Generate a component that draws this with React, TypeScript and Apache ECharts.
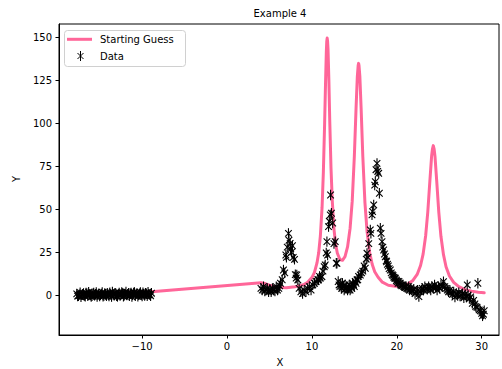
import React, { useEffect, useRef } from "react";
import * as echarts from "echarts";

const FONT = '"DejaVu Sans", sans-serif';
const PINK = "#ff6699";

// Tick labels
const xTicks = [-10, 0, 10, 20, 30];
const yTicks = [0, 25, 50, 75, 100, 125, 150];

// "Starting Guess" curve: [x, y]
const guessCurve = [
  [-17.7, 1.2], [-8.9, 2.1], [4.0, 7.3], [4.5, 6.8], [5.0, 5.9], [5.5, 5.3], [6.0, 4.8],
  [6.5, 4.5], [7.0, 4.4], [7.5, 4.7], [8.0, 5.0], [8.5, 5.4], [9.0, 6.1], [9.5, 7.5],
  [10.0, 10.3], [10.3, 13.3], [10.6, 18.8], [10.8, 24.7], [11.0, 34.6], [11.2, 51.2],
  [11.35, 71.5], [11.5, 100], [11.6, 122], [11.7, 141.5], [11.75, 147.5], [11.8, 149.5],
  [11.85, 147.5], [11.9, 143], [12.0, 125], [12.1, 102], [12.25, 74], [12.4, 55],
  [12.6, 38.5], [12.8, 29.5], [13.0, 24.4], [13.3, 20.8], [13.6, 20.3], [13.9, 22.4],
  [14.2, 28.1], [14.5, 39], [14.75, 54.7], [15.0, 80.8], [15.2, 108.5], [15.35, 127],
  [15.45, 133.5], [15.5, 134.8], [15.55, 133.5], [15.65, 127.2], [15.8, 108.5],
  [16.0, 80.5], [16.25, 53.7], [16.5, 37], [16.8, 25], [17.1, 18], [17.4, 13.7],
  [17.8, 10.5], [18.3, 7.6], [19.0, 5.8], [19.8, 5.2], [20.6, 5.3], [21.3, 6.5],
  [21.9, 8.6], [22.4, 12.1], [22.8, 17.3], [23.1, 23.9], [23.4, 34.6], [23.65, 48.4],
  [23.9, 66.7], [24.1, 80.8], [24.2, 85], [24.3, 87], [24.4, 85], [24.5, 80.7],
  [24.7, 66.6], [24.95, 48.2], [25.2, 34.3], [25.5, 23.6], [25.8, 16.6], [26.2, 11.2],
  [26.7, 7.5], [27.3, 5.0], [28.0, 3.4], [28.8, 2.4], [29.6, 1.8], [30.3, 1.4],
];

// Measured data (left cluster), [x, y]
const dataLeft = [
  [-17.7, 0.8], [-17.6, -0.5], [-17.5, -0.3], [-17.4, 0.4], [-17.3, 1.5], [-17.2, -0.9],
  [-17.1, 0.2], [-17.0, 0.6], [-16.9, 1.1], [-16.8, -0.2], [-16.7, -0.6], [-16.6, 1.3],
  [-16.5, 0.9], [-16.4, -0.4], [-16.3, 1.8], [-16.2, 0.5], [-16.1, 0.1], [-16.0, -0.7],
  [-15.9, -0.4], [-15.8, 0.9], [-15.7, 1.3], [-15.6, -0.1], [-15.5, 0.6], [-15.4, 1.6],
  [-15.3, -0.8], [-15.2, 0.2], [-15.1, 1.0], [-15.0, -0.5], [-14.9, 0.3], [-14.8, 0.8],
  [-14.7, 1.6], [-14.6, -0.6], [-14.5, -0.2], [-14.4, 1.1], [-14.3, 0.7], [-14.2, -0.3],
  [-14.1, 1.2], [-14.0, 0.4], [-13.9, -0.5], [-13.8, 1.5], [-13.7, 0.4], [-13.6, -0.8],
  [-13.5, 1.9], [-13.4, 0.7], [-13.3, 0.0], [-13.2, 1.2], [-13.1, 0.9], [-13.0, -0.3],
  [-12.9, -0.7], [-12.8, 0.5], [-12.7, 1.4], [-12.6, -0.2], [-12.5, 0.5], [-12.4, 1.7],
  [-12.3, 1.1], [-12.2, -0.6], [-12.1, -0.1], [-12.0, 0.8], [-11.9, 2.0], [-11.8, 0.1],
  [-11.7, 0.6], [-11.6, 1.2], [-11.5, -0.4], [-11.4, 0.9], [-11.3, 1.3], [-11.2, -0.7],
  [-11.1, 0.2], [-11.0, 1.4], [-10.9, 1.7], [-10.8, -0.3], [-10.7, 0.8], [-10.6, 1.1],
  [-10.5, -0.6], [-10.4, 0.3], [-10.3, 1.0], [-10.2, 1.6], [-10.1, 0.3], [-10.0, -0.5],
  [-9.9, 1.5], [-9.8, 0.6], [-9.7, -0.2], [-9.6, 1.2], [-9.5, 0.9], [-9.4, -0.4],
  [-9.3, 1.8], [-9.2, 0.7], [-9.1, 0.4], [-9.0, -0.3], [-8.9, 1.2],
];

// Measured data (right part), [x, y]
const dataRight = [
  [4.0, 4], [4.15, 3], [4.3, 5], [4.45, 2.5], [4.6, 3], [4.75, 4], [4.9, 2], [5.05, 3.5],
  [5.2, 2], [5.35, 4], [5.5, 3], [5.65, 2.5], [5.8, 5], [5.95, 3], [6.1, 4], [6.2, 5.5],
  [6.3, 7], [6.5, 9], [6.65, 14.7], [6.8, 13], [6.93, 23.4], [7.0, 22], [7.1, 28],
  [7.24, 36], [7.3, 32], [7.44, 30.2], [7.5, 27], [7.6, 25], [7.71, 28.8], [7.8, 22],
  [7.95, 20.9], [8.05, 12], [8.15, 10], [8.22, 11.8], [8.34, 8.9], [8.5, 4], [8.7, 2],
  [8.9, 1], [9.1, 3], [9.3, 2], [9.5, 4], [9.7, 5], [9.9, 3], [10.1, 6], [10.3, 7],
  [10.5, 8], [10.7, 9], [10.78, 8.9], [10.9, 11], [11.0, 10], [11.18, 10.8], [11.3, 14],
  [11.45, 16.6], [11.57, 17.6], [11.69, 24.6], [11.77, 31.2], [11.85, 23.4], [11.96, 39.9],
  [12.05, 43], [12.16, 46.7], [12.2, 58.3], [12.3, 47.7], [12.45, 42], [12.6, 30],
  [12.75, 31.2], [12.87, 18.6], [12.95, 18.6], [13.1, 8], [13.2, 6], [13.3, 5], [13.4, 6.5],
  [13.5, 4], [13.6, 7], [13.7, 5], [13.8, 3], [13.9, 6], [14.0, 4], [14.1, 5], [14.2, 3],
  [14.3, 4], [14.4, 6], [14.5, 3], [14.6, 5], [14.7, 4], [14.8, 7], [14.9, 6], [15.0, 5],
  [15.1, 8], [15.2, 7], [15.31, 8.9], [15.4, 9], [15.5, 11], [15.7, 11.8], [15.85, 13],
  [16.0, 14], [16.15, 17], [16.29, 15.7], [16.4, 21], [16.49, 24.4], [16.6, 22], [16.7, 30],
  [16.88, 38], [16.95, 36], [17.08, 46.7], [17.15, 48.6], [17.28, 52.5], [17.4, 64],
  [17.47, 66], [17.55, 73], [17.67, 76.7], [17.75, 72], [17.87, 70.9], [17.95, 59.3],
  [18.06, 39], [18.15, 36], [18.26, 31.2], [18.35, 28], [18.45, 26.3], [18.55, 24],
  [18.65, 22.4], [18.75, 20], [18.8, 19.5], [18.9, 18], [19.0, 17], [19.1, 15.5],
  [19.24, 14.7], [19.35, 13], [19.45, 12], [19.55, 11.5], [19.65, 10.5], [19.75, 10],
  [19.83, 9.9], [19.95, 8.5], [20.05, 8], [20.15, 7], [20.25, 8], [20.4, 7], [20.5, 6],
  [20.6, 5.5], [20.7, 6], [20.85, 5], [21.0, 4.5], [21.1, 5], [21.2, 4], [21.4, 5],
  [21.5, 3], [21.6, 4], [21.75, 3], [21.9, 2.5], [22.0, 3.5], [22.15, 1], [22.3, 2],
  [22.45, 3], [22.6, -0.8], [22.75, 2], [22.9, 3], [23.0, 4], [23.15, 3], [23.3, 5],
  [23.45, 4], [23.6, 3.5], [23.75, 5], [23.9, 4], [24.0, 3], [24.15, 5], [24.3, 4],
  [24.45, 6], [24.6, 4.5], [24.75, 3], [24.9, 5], [25.05, 4], [25.2, 6], [25.35, 5],
  [25.5, 7.9], [25.65, 5], [25.8, 4], [25.95, 3], [26.1, 2], [26.25, 3], [26.4, 1.5],
  [26.55, 0.5], [26.7, 2], [26.85, -1], [27.0, 1], [27.15, 0], [27.3, 1.5], [27.45, -0.5],
  [27.6, 0], [27.75, 1], [27.9, -1.5], [28.05, 0.5], [28.2, -1], [28.3, 6], [28.4, 0],
  [28.55, -2], [28.7, -1], [28.9, -4.7], [29.05, -3], [29.2, -5], [29.3, -6.6], [29.45, -7],
  [29.55, 7], [29.7, -8.5], [29.85, -9], [30.0, -10.5], [30.1, -12], [30.2, -11], [30.3, -9],
];

const ERR = 3;

const fmt = (v: number) => (v < 0 ? "\u2212" + Math.abs(v) : String(v));

export default function App() {
  const ref = useRef<HTMLDivElement>(null);
  useEffect(() => {
    const chart = echarts.init(ref.current!, null, { renderer: "svg" });
    const axisCommon = {
      type: "value",
      axisLine: { show: true, onZero: false, lineStyle: { color: "#000", width: 1 } },
      splitLine: { show: false },
    };
    const option: any = {
      animation: false,
      backgroundColor: "#fff",
      grid: {
        left: 59, right: 3, top: 24, bottom: 34,
        show: true, borderColor: "#000", borderWidth: 1, backgroundColor: "transparent",
      },
      xAxis: {
        ...axisCommon,
        min: -19.79,
        max: 32.04,
        axisTick: { show: true, length: 3.5, lineStyle: { color: "#000" }, customValues: xTicks },
        axisLabel: {
          customValues: xTicks, color: "#000", fontSize: 10, fontFamily: FONT, margin: 6,
          formatter: (v: number) => fmt(v),
        },
      },
      yAxis: {
        ...axisCommon,
        min: -23.1,
        max: 157.7,
        axisTick: { show: true, length: 3.5, lineStyle: { color: "#000" }, customValues: yTicks },
        axisLabel: {
          customValues: yTicks, color: "#000", fontSize: 10, fontFamily: FONT, margin: 7,
          formatter: (v: number) => fmt(v),
        },
      },
      series: [
        {
          type: "line",
          name: "Starting Guess",
          data: guessCurve,
          showSymbol: false,
          symbol: "none",
          lineStyle: { color: PINK, width: 3, join: "round", cap: "round" },
          z: 2,
        },
        {
          type: "custom",
          name: "Data",
          data: [...dataLeft, ...dataRight],
          encode: { x: 0, y: 1 },
          z: 3,
          renderItem: (_params: any, api: any) => {
            const x = api.value(0);
            const y = api.value(1);
            const c = api.coord([x, y]);
            const t = api.coord([x, y + ERR]);
            const b = api.coord([x, y - ERR]);
            const s = 3.3;
            const style = { stroke: "#000", lineWidth: 1.1, fill: null };
            return {
              type: "group",
              children: [
                { type: "line", shape: { x1: c[0], y1: t[1], x2: c[0], y2: b[1] }, style },
                { type: "line", shape: { x1: c[0] - s, y1: c[1] - s, x2: c[0] + s, y2: c[1] + s }, style },
                { type: "line", shape: { x1: c[0] - s, y1: c[1] + s, x2: c[0] + s, y2: c[1] - s }, style },
              ],
            };
          },
        },
      ],
      graphic: [
        {
          type: "text", x: 280, y: 13, z: 100,
          style: { text: "Example 4", font: `10px ${FONT}`, fill: "#000", textAlign: "center", textVerticalAlign: "middle" },
        },
        {
          type: "text", x: 280, y: 362, z: 100,
          style: { text: "X", font: `10px ${FONT}`, fill: "#000", textAlign: "center", textVerticalAlign: "middle" },
        },
        {
          type: "text", x: 16, y: 179, rotation: Math.PI / 2, z: 100,
          style: { text: "Y", font: `10px ${FONT}`, fill: "#000", textAlign: "center", textVerticalAlign: "middle" },
        },
        {
          type: "group", z: 100,
          children: [
            {
              type: "rect", shape: { x: 64.5, y: 30.5, width: 121, height: 36, r: 3 },
              style: { fill: "rgba(255,255,255,0.8)", stroke: "#d0d0d0", lineWidth: 1 },
            },
            {
              type: "line", shape: { x1: 67, y1: 39.3, x2: 92, y2: 39.3 },
              style: { stroke: PINK, lineWidth: 3 },
            },
            {
              type: "text", x: 100, y: 39.5,
              style: { text: "Starting Guess", font: `10px ${FONT}`, fill: "#000", textVerticalAlign: "middle" },
            },
            { type: "line", shape: { x1: 80.5, y1: 51, x2: 80.5, y2: 61 }, style: { stroke: "#000", lineWidth: 1 } },
            { type: "line", shape: { x1: 77.5, y1: 53, x2: 83.5, y2: 59 }, style: { stroke: "#000", lineWidth: 1 } },
            { type: "line", shape: { x1: 77.5, y1: 59, x2: 83.5, y2: 53 }, style: { stroke: "#000", lineWidth: 1 } },
            {
              type: "text", x: 100, y: 56,
              style: { text: "Data", font: `10px ${FONT}`, fill: "#000", textVerticalAlign: "middle" },
            },
          ],
        },
      ],
    };
    chart.setOption(option);
    return () => chart.dispose();
  }, []);
  return (
    <div
      ref={ref}
      style={{ position: "fixed", left: 0, top: 0, width: 502, height: 369, background: "#fff" }}
    />
  );
}
